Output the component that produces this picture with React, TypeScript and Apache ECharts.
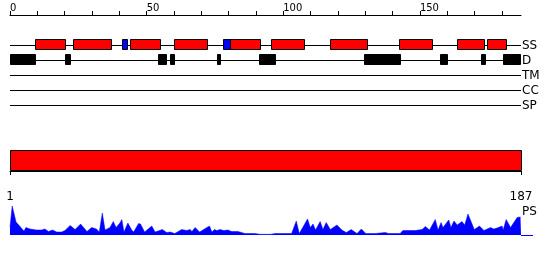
import React, { useEffect, useRef } from 'react';
import * as echarts from 'echarts';

const SEQ_LENGTH = 187;
const trackNames = ['SS', 'D', 'TM', 'CC', 'SP'];
// secondary structure: helices (red) and strands (blue), [start, end]
const helices: number[][] = [
  [9, 20], [23, 37], [44, 55], [60, 72], [80.5, 91.5], [95.5, 107.5],
  [117, 130.5], [142.5, 154.5], [163.5, 173.5], [174.5, 181.5],
];
const strands: number[][] = [[41, 43], [78, 80.5]];
// disordered regions
const disorder: number[][] = [
  [0, 9], [20, 22], [54, 57], [58.5, 60], [75.7, 76.7], [91, 97],
  [129.5, 142.5], [157.3, 159.8], [172.3, 173.8], [180.4, 186.5],
];
const domains: number[][] = [[1, 187]];
const topTicks = [0, 10, 20, 30, 40, 50, 60, 70, 80, 90, 100, 110, 120, 130, 140, 150, 160, 170, 180];
const topLabels = [0, 50, 100, 150];
const bottomTicks = [1, 187];
// PS profile: [residue, score]
const psProfile: number[][] = [
  [1, 8], [1.8, 29], [3.2, 13], [4.5, 9], [5.7, 5], [6.1, 4], [6.8, 7.5], [8.3, 6], [10.7, 5], [12.5, 5],
  [13.7, 6], [15, 3.5], [16.5, 5], [18, 3], [19.8, 3], [21, 4.5], [22.9, 9.5], [24.7, 5.5], [26.7, 11],
  [27.8, 7.5], [29, 3.5], [30.7, 7.5], [32.5, 6], [33.5, 3], [34.6, 22], [35.6, 5], [37.4, 7.5], [38.6, 13.5],
  [39.6, 7.5], [41, 12], [41.7, 15.5], [42.5, 3], [43.9, 12], [45.3, 5], [46, 3], [47.8, 11.5], [48.5, 11],
  [50, 3], [52.6, 9], [53.8, 3], [56.5, 5.5], [58, 2.5], [59.3, 3], [61, 1.5], [63.5, 5.5], [65.3, 4.5],
  [66.6, 5.5], [67.2, 3.5], [68.4, 7.5], [70, 3], [73.6, 9], [74.5, 3], [75.4, 5.5], [76.3, 4.5], [77.5, 5.5],
  [78.8, 4.5], [80.3, 5], [81.7, 3.5], [84, 3.5], [86.5, 1.5], [90, 1.5], [92, 0.7], [96, 0.7], [97.5, 1.5],
  [103.5, 1.5], [105.2, 14], [106.3, 1.5], [109.3, 16], [110.3, 7.5], [111.3, 11], [112.2, 5], [113.9, 13.5],
  [114.9, 5.5], [116.1, 12.5], [117.6, 5.5], [120, 10], [121.8, 5], [123.4, 2.5], [125.2, 5.5], [127.3, 1.5],
  [128.9, 6], [130.5, 1.5], [134, 1.5], [137.6, 2.5], [138.8, 1.5], [143, 1.5], [144, 4.5], [148.5, 4.5],
  [151, 5.5], [152.2, 8.5], [153.7, 5], [155.8, 15.5], [156.8, 5], [157.9, 12.5], [158.6, 7.5], [160.7, 15],
  [161.5, 7.5], [162.6, 14], [163.8, 10], [165.5, 13.5], [166.5, 10], [167.7, 21], [170, 5.5], [171.9, 9],
  [173.5, 4.5], [175.9, 7.5], [177.1, 6], [178.3, 7], [180.1, 9], [180.5, 5], [181.6, 15.5], [183.2, 7.5],
  [185.6, 17.5], [186.8, 18], [187, 18],
];

const FONT = 'DejaVu Sans';

function rectItem(color: string) {
  return (params: any, api: any) => {
    const s = api.value(0);
    const e = api.value(1);
    const t = api.value(2);
    const p1 = api.coord([s, t]);
    const p2 = api.coord([e, t]);
    return {
      type: 'rect',
      shape: { x: Math.round(p1[0]) + 0.5, y: Math.round(p1[1]) - 5.5, width: Math.round(p2[0] - p1[0]), height: 10 },
      style: { fill: color, stroke: '#000', lineWidth: 1 },
    };
  };
}

export default function App() {
  const ref = useRef<HTMLDivElement>(null);
  useEffect(() => {
    if (!ref.current) return;
    const chart = echarts.init(ref.current, undefined, { renderer: 'svg' });
    const gridLeft = 10;
    const gridWidth = 511;
    chart.setOption({
      animation: false,
      textStyle: { fontFamily: FONT },
      grid: [
        { left: gridLeft, width: gridWidth, top: 37.5, height: 75 },
        { left: gridLeft, width: gridWidth, top: 150, height: 21 },
        { left: gridLeft, width: gridWidth, top: 205, height: 30 },
      ],
      xAxis: [
        {
          gridIndex: 0, type: 'value', min: 0, max: SEQ_LENGTH, position: 'top', offset: 22.5,
          axisLine: { show: true, lineStyle: { color: '#000', width: 1 } },
          axisTick: { show: true, length: 4, customValues: topTicks, lineStyle: { color: '#000' } },
          axisLabel: { customValues: topLabels, align: 'left', fontSize: 10, margin: 3, color: '#000', fontFamily: FONT },
          splitLine: { show: false },
        },
        {
          gridIndex: 1, type: 'value', min: 1, max: SEQ_LENGTH, position: 'bottom', offset: 10,
          axisLine: { show: true, lineStyle: { color: '#000', width: 1 } },
          axisTick: { show: true, length: 4, customValues: bottomTicks, lineStyle: { color: '#000' } },
          axisLabel: { customValues: bottomTicks, fontSize: 12, margin: 9, color: '#000', fontFamily: FONT },
          splitLine: { show: false },
        },
        { gridIndex: 2, type: 'value', min: 1, max: SEQ_LENGTH, show: false },
      ],
      yAxis: [
        {
          gridIndex: 0, type: 'category', data: trackNames, inverse: true, position: 'right',
          axisLine: { show: false }, axisTick: { show: false }, splitLine: { show: false },
          axisLabel: { interval: 0, hideOverlap: false, fontSize: 12, color: '#000', margin: 1, fontFamily: FONT },
        },
        { gridIndex: 1, type: 'value', min: 0, max: 1, show: false },
        { gridIndex: 2, type: 'value', min: 0, max: 30, show: false },
      ],
      series: [
        {
          type: 'custom', xAxisIndex: 0, yAxisIndex: 0,
          data: trackNames.map((_, i) => [0, SEQ_LENGTH, i]),
          renderItem: (params: any, api: any) => {
            const p1 = api.coord([api.value(0), api.value(2)]);
            const p2 = api.coord([api.value(1), api.value(2)]);
            const y = Math.round(p1[1]) + 0.5;
            return { type: 'line', shape: { x1: p1[0], y1: y, x2: p2[0], y2: y }, style: { stroke: '#000', lineWidth: 1 } };
          },
        },
        { type: 'custom', xAxisIndex: 0, yAxisIndex: 0, data: helices.map((h) => [h[0], h[1], 0]), renderItem: rectItem('#ff0000') },
        { type: 'custom', xAxisIndex: 0, yAxisIndex: 0, data: strands.map((h) => [h[0], h[1], 0]), renderItem: rectItem('#0000ff') },
        { type: 'custom', xAxisIndex: 0, yAxisIndex: 0, data: disorder.map((h) => [h[0], h[1], 1]), renderItem: rectItem('#000000') },
        {
          type: 'custom', xAxisIndex: 1, yAxisIndex: 1,
          data: domains.map((d) => [d[0], d[1]]),
          renderItem: (params: any, api: any) => {
            const p1 = api.coord([api.value(0), 1]);
            const p2 = api.coord([api.value(1), 0]);
            return {
              type: 'rect',
              shape: { x: Math.round(p1[0]) + 0.5, y: Math.round(p1[1]) + 0.5, width: Math.round(p2[0] - p1[0]), height: Math.round(p2[1] - p1[1]) - 1 },
              style: { fill: '#ff0000', stroke: '#000', lineWidth: 1 },
            };
          },
        },
        {
          type: 'line', xAxisIndex: 2, yAxisIndex: 2, data: psProfile, symbol: 'none',
          lineStyle: { color: '#0000ff', width: 0.5 },
          areaStyle: { color: '#0000ff', opacity: 1 },
          itemStyle: { color: '#0000ff' },
        },
      ],
      graphic: [
        { type: 'text', left: 522, top: 205, style: { text: 'PS', fontSize: 12, fill: '#000', fontFamily: FONT } },
        { type: 'line', shape: { x1: 521, y1: 235.5, x2: 533, y2: 235.5 }, style: { stroke: '#0000ff', lineWidth: 1 } },
      ],
    });
    return () => chart.dispose();
  }, []);
  return <div ref={ref} style={{ position: 'fixed', left: 0, top: 0, width: 550, height: 260 }} />;
}
